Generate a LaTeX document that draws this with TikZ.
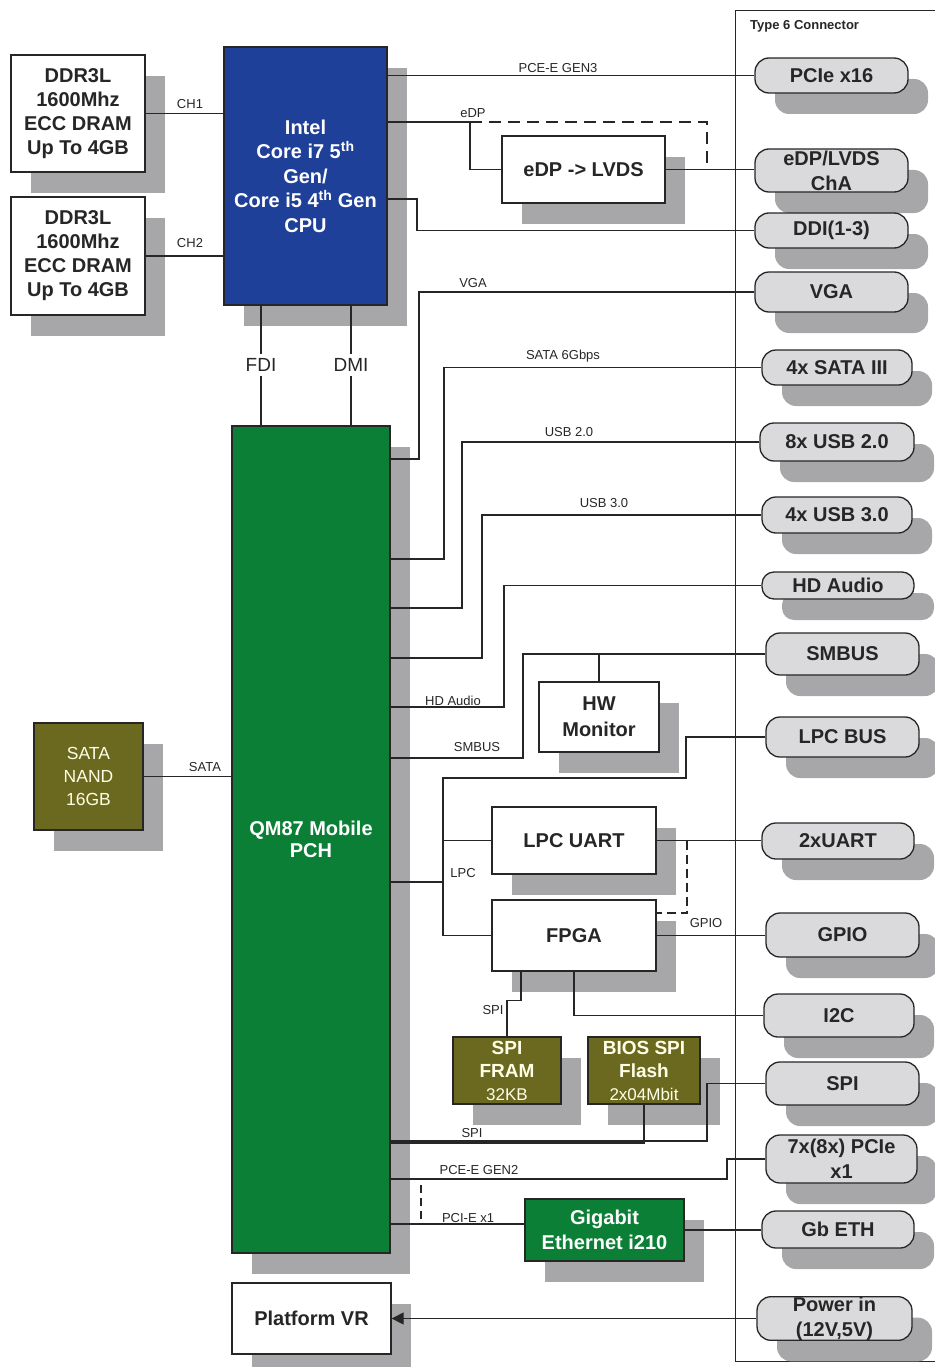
\documentclass[tikz,border=0pt]{standalone}
\usepackage{fontspec}
\setmainfont{Liberation Sans}
\usetikzlibrary{shadows,arrows.meta}
\definecolor{cpublue}{RGB}{31,64,153}
\definecolor{pchgreen}{RGB}{12,127,54}
\definecolor{nandolive}{RGB}{107,105,31}
\definecolor{shgray}{RGB}{167,167,170}
\definecolor{pillgray}{RGB}{218,218,220}
\definecolor{inkgray}{RGB}{38,38,38}

\begin{document}
\begin{tikzpicture}[x=1pt, y=-1pt,
     sh/.style={drop shadow={shadow xshift=20pt, shadow yshift=-21pt, fill=shgray, opacity=1}},
     sz/.style 2 args={minimum width=#1pt, minimum height=#2pt},
     blk/.style={draw=inkgray, line width=1.3pt, inner sep=0pt, align=center, sh, text=inkgray,
                 font=\bfseries\fontsize{20}{24}\selectfont},
     wbox/.style={blk, fill=white},
     cpubox/.style={blk, fill=cpublue, text=white, font=\bfseries\fontsize{20}{24.5}\selectfont},
     pchbox/.style={blk, fill=pchgreen, text=white, font=\bfseries\fontsize{20}{22}\selectfont},
     olbox/.style={blk, fill=nandolive, text=white!90!yellow, font=\bfseries\fontsize{19}{23}\selectfont},
     pill/.style={blk, fill=pillgray, rounded corners=14pt, font=\bfseries\fontsize{20}{25}\selectfont},
     lbl/.style={font=\fontsize{13}{15}\selectfont, inner sep=1pt, text=inkgray},
     wire/.style={draw=inkgray, line width=1.3pt}]

   \useasboundingbox (0,0) rectangle (934,1367);

   \node[draw=inkgray, line width=1.3pt, anchor=north west, sz={230}{1351}] (con) at (735,10) {};
   \node[lbl, anchor=west, font=\bfseries\fontsize{13}{15}\selectfont] (contitle) at (749,26) {Type 6 Connector};

   \node[wbox, sz={134}{117}] (ddrA) at (78,113.5) {DDR3L\\1600Mhz\\ECC DRAM\\Up To 4GB};
   \node[wbox, sz={134}{118}] (ddrB) at (78,256) {DDR3L\\1600Mhz\\ECC DRAM\\Up To 4GB};
   \node[cpubox, sz={163}{258}] (cpu) at (305.5,176) {Intel\\Core i7 5\textsuperscript{th}\\Gen/\\Core i5 4\textsuperscript{th} Gen\\CPU};
   \node[pchbox, sz={158}{827}] (pch) at (311,839.5) {QM87 Mobile\\PCH};
   \node[olbox, sz={109}{107}, font=\fontsize{17.5}{23}\selectfont] (nand) at (88.5,776.5) {SATA\\NAND\\16GB};
   \node[wbox, sz={163}{67}] (lvds) at (583.5,169.5) {eDP -> LVDS};
   \node[wbox, sz={120}{70}, font=\bfseries\fontsize{20}{26}\selectfont] (hwmon) at (599,717) {HW\\Monitor};
   \node[wbox, sz={164}{67}] (lpcuart) at (574,840.5) {LPC UART};
   \node[wbox, sz={164}{71}] (fpga) at (574,935.5) {FPGA};
   \node[olbox, sz={108}{67}] (fram) at (507,1070.5) {SPI\\FRAM\\{\mdseries\fontsize{17}{18}\selectfont 32KB}};
   \node[olbox, sz={112}{67}] (bios) at (644,1070.5) {BIOS SPI\\Flash\\{\mdseries\fontsize{17}{18}\selectfont 2x04Mbit}};
   \node[pchbox, sz={159}{62}, font=\bfseries\fontsize{20}{25}\selectfont] (gbe) at (604.5,1230) {Gigabit\\Ethernet i210};
   \node[wbox, sz={159}{71}] (vr) at (311.5,1318.5) {Platform VR};

   \node[pill, sz={153}{35}] (pcie16) at (831.5,75.5) {PCIe x16};
   \node[pill, sz={153}{43}] (edpcon) at (831.5,170.5) {eDP/LVDS\\ChA};
   \node[pill, sz={153}{35}] (ddi) at (831.5,230.5) {DDI(1-3)};
   \node[pill, sz={153}{40}] (vga) at (831.5,292) {VGA};
   \node[pill, sz={150}{35}] (sata3) at (837,367.5) {4x SATA III};
   \node[pill, sz={154}{38}] (usb2) at (837,442) {8x USB 2.0};
   \node[pill, sz={150}{36}] (usb3) at (837,515) {4x USB 3.0};
   \node[pill, sz={152}{27}, rounded corners=12pt] (hda) at (838,585.5) {HD Audio};
   \node[pill, sz={153}{42}] (smbus) at (842.5,654) {SMBUS};
   \node[pill, sz={153}{40}] (lpcbus) at (842.5,737) {LPC BUS};
   \node[pill, sz={152}{36}] (uart) at (838,841) {2xUART};
   \node[pill, sz={153}{44}] (gpio) at (842.5,935) {GPIO};
   \node[pill, sz={150}{43}] (itwoc) at (839,1015.5) {I2C};
   \node[pill, sz={153}{43}] (spicon) at (842.5,1083.5) {SPI};
   \node[pill, sz={151}{48}] (pciex1) at (841.5,1159) {7x(8x) PCIe\\x1};
   \node[pill, sz={152}{37}] (gbeth) at (838,1229.5) {Gb ETH};
   \node[pill, sz={155}{43}] (pwr) at (834.5,1318.5) {Power in\\(12V,5V)};

   \node[lbl] (lch1) at (190,104) {CH1};
   \node[lbl] (lch2) at (190,243) {CH2};
   \node[lbl, font=\fontsize{19}{21}\selectfont, inner sep=4pt] (fdi) at (261,365) {FDI};
   \node[lbl, font=\fontsize{19}{21}\selectfont, inner sep=4pt] (dmi) at (351,365) {DMI};
   \node[lbl] (lgen3) at (558,68) {PCE-E GEN3};
   \node[lbl] (ledp) at (473,113) {eDP};
   \node[lbl] (lvga) at (473,283) {VGA};
   \node[lbl] (lsata) at (563,356) {SATA 6Gbps};
   \node[lbl] (lusb2) at (569,432) {USB 2.0};
   \node[lbl] (lusb3) at (604,503) {USB 3.0};
   \node[lbl] (lhda) at (453,701) {HD Audio};
   \node[lbl] (lsmb) at (477,747) {SMBUS};
   \node[lbl] (llpc) at (463,873) {LPC};
   \node[lbl] (lgpio) at (706,923) {GPIO};
   \node[lbl] (lspiA) at (493,1010) {SPI};
   \node[lbl] (lspiB) at (472,1133) {SPI};
   \node[lbl] (lgen2) at (479,1170) {PCE-E GEN2};
   \node[lbl] (lx1) at (468,1218) {PCI-E x1};
   \node[lbl] (lnand) at (205,767) {SATA};

   \coordinate (edpx) at (470,122);
   \coordinate (edpd) at (707,122);
   \coordinate (ddix) at (417,199);
   \coordinate (vgax) at (419,459);
   \coordinate (satax) at (444,559);
   \coordinate (usb2x) at (462,608);
   \coordinate (usb3x) at (482,658);
   \coordinate (hdax) at (504,707);
   \coordinate (smbx) at (523,758);
   \coordinate (lpcx) at (443,882);
   \coordinate (lpcy) at (686,778);
   \coordinate (uartd) at (687,840.5);
   \coordinate (spix) at (707,1141);
   \coordinate (gen2x) at (727,1179);
   \coordinate (x1d) at (421,1185);

   \draw[wire] (ddrA) -- (ddrA -| cpu.west);
   \draw[wire] (ddrB) -- (ddrB -| cpu.west);
   \draw[wire] (cpu.south -| fdi) -- (fdi.north) (fdi.south) -- (pch.north -| fdi);
   \draw[wire] (cpu.south -| dmi) -- (dmi.north) (dmi.south) -- (pch.north -| dmi);
   \draw[wire] (cpu.east |- pcie16) -- (pcie16.west);
   \draw[wire] (cpu.east |- edpx) -- (edpx) |- (lvds.west);
   \draw[wire, dashed, dash pattern=on 12pt off 7pt] (edpx) -- (edpd) -- (edpd |- lvds.east);
   \draw[wire] (lvds.east) -- (lvds.east -| edpcon.west);
   \draw[wire] (cpu.east |- ddix) -- (ddix) |- (ddi.west);
   \draw[wire] (pch.east |- vgax) -- (vgax) |- (vga.west);
   \draw[wire] (pch.east |- satax) -- (satax) |- (sata3.west);
   \draw[wire] (pch.east |- usb2x) -- (usb2x) |- (usb2.west);
   \draw[wire] (pch.east |- usb3x) -- (usb3x) |- (usb3.west);
   \draw[wire] (pch.east |- hdax) -- (hdax) |- (hda.west);
   \draw[wire] (pch.east |- smbx) -- (smbx) |- (smbus.west);
   \draw[wire] (hwmon.north |- smbus) -- (hwmon.north);
   \draw[wire] (pch.east |- lpcx) -- (lpcx);
   \draw[wire] (lpcbus.west) -| (lpcy) -| (lpcx |- fpga.west) -- (fpga.west);
   \draw[wire] (lpcuart.west -| lpcx) -- (lpcuart.west);
   \draw[wire] (lpcuart.east) -- (lpcuart.east -| uart.west);
   \draw[wire, dashed, dash pattern=on 9pt off 5pt] (uartd) -- (uartd |- 0,913) -- (fpga.east |- 0,913);
   \draw[wire] (fpga.east) -- (fpga.east -| gpio.west);
   \draw[wire] (fpga.south) |- (itwoc.west);
   \draw[wire] ([xshift=-53pt]fpga.south) |- ([yshift=36pt]fram.north) -- (fram.north);
   \draw[wire] (pch.east |- spix) -- (spix) |- (spicon.west);
   \draw[wire, line width=1.7pt] (bios.south) |- ([yshift=-2pt]pch.east |- spix);
   \draw[wire] (pch.east |- gen2x) -- (gen2x) |- (pciex1.west);
   \draw[wire] ([yshift=6pt]gbe.west) -- ([yshift=6pt]gbe.west -| pch.east);
   \draw[wire, dashed, dash pattern=on 8pt off 5pt] (x1d) -- (x1d |- lx1.south);
   \draw[wire] (gbe.east) -- (gbe.east -| gbeth.west);
   \draw[wire, -{Triangle[length=12pt, width=12pt]}] (pwr.west) -- (vr.east);
   \draw[wire] (nand.east) -- (nand.east -| pch.west);
  \end{tikzpicture}
\end{document}
